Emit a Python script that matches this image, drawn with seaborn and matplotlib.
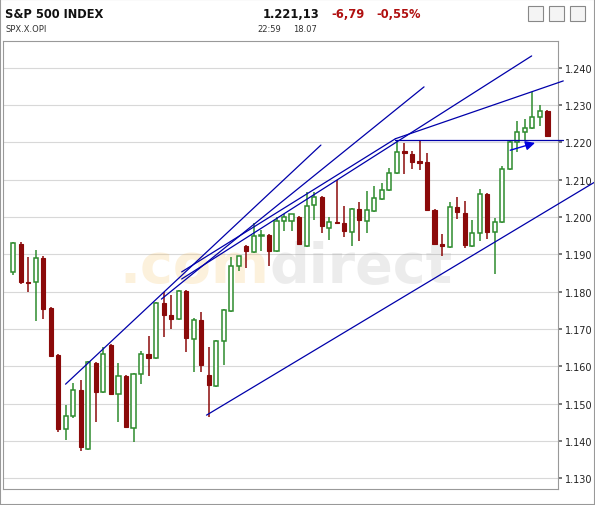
import matplotlib
matplotlib.use("Agg")
import matplotlib.pyplot as plt
import seaborn as sns
import numpy as np

sns.set_theme(style="white")
plt.rcParams['font.family'] = ['DejaVu Sans']

opens = [1185.3,1192.8,1182.6,1182.6,1189.0,1175.6,1163.0,1143.1,1146.6,1153.6,1137.8,1160.9,1153.1,1165.7,1152.5,1157.4,1143.4,1157.9,1163.3,1162.2,
         1177.0,1173.7,1172.7,1180.2,1167.3,1172.4,1157.6,1154.7,1166.8,1174.8,1186.9,1192.2,1190.6,1194.9,1195.2,1190.9,1199.0,1199.0,1200.0,1192.2,
         1203.2,1205.4,1197.1,1198.5,1198.4,1196.0,1202.2,1198.9,1201.6,1204.9,1207.3,1211.8,1217.7,1216.9,1214.8,1214.8,1201.9,1192.8,1192.0,1202.7,
         1201.1,1192.2,1195.7,1206.2,1196.0,1198.7,1212.9,1220.1,1222.8,1223.9,1226.9,1228.5]
highs = [1193.3,1193.3,1189.3,1191.2,1189.5,1176.0,1163.3,1149.6,1155.5,1156.3,1161.5,1161.2,1165.1,1166.0,1160.9,1157.7,1158.2,1164.1,1168.1,1177.3,
         1179.9,1179.1,1180.5,1180.5,1172.9,1174.5,1165.1,1167.0,1175.3,1189.3,1189.6,1192.5,1198.4,1196.5,1195.5,1200.0,1200.8,1200.8,1200.3,1206.7,
         1206.7,1205.7,1200.0,1210.0,1203.0,1202.5,1204.0,1207.0,1208.3,1209.1,1213.2,1220.4,1219.9,1217.7,1220.4,1217.2,1202.2,1195.5,1204.0,1205.4,
         1204.3,1199.2,1207.5,1206.5,1199.8,1213.7,1220.4,1225.8,1226.3,1233.6,1230.1,1228.8]
lows = [1184.5,1182.0,1179.9,1172.1,1172.7,1162.5,1142.3,1140.2,1146.0,1137.2,1137.5,1145.0,1152.8,1152.2,1145.0,1143.4,1139.7,1155.3,1157.4,1162.0,
        1167.8,1170.0,1172.4,1163.8,1158.4,1158.4,1146.3,1154.4,1160.3,1174.5,1185.5,1186.3,1190.4,1190.9,1186.9,1190.6,1196.3,1196.3,1192.8,1192.0,
        1199.2,1195.7,1193.9,1198.2,1194.7,1192.2,1193.6,1195.7,1201.4,1204.6,1207.0,1211.5,1211.6,1212.9,1212.6,1201.6,1192.8,1189.6,1191.7,1199.5,
        1191.7,1192.0,1193.6,1194.1,1184.7,1198.5,1212.7,1217.5,1220.4,1223.7,1224.4,1221.5]
closes = [1193.0,1182.6,1182.4,1189.0,1175.3,1162.7,1143.1,1146.6,1153.6,1138.3,1161.1,1153.1,1163.3,1152.5,1157.4,1143.7,1157.9,1163.3,1162.2,1177.0,
          1173.7,1172.7,1180.2,1167.6,1172.4,1160.3,1155.0,1166.8,1175.1,1186.9,1189.6,1190.9,1194.9,1195.0,1190.9,1199.0,1200.0,1200.8,1192.8,1203.0,
          1205.4,1197.6,1198.7,1198.4,1196.3,1202.2,1199.2,1201.9,1205.1,1207.3,1211.8,1217.5,1217.2,1214.8,1214.6,1201.9,1192.8,1192.2,1202.7,1201.4,
          1192.5,1195.7,1206.2,1196.0,1198.7,1212.9,1220.1,1222.8,1223.9,1226.9,1228.5,1221.8]

# trend lines: (index0, price0, index1, price1)
trend_lines = [
    (6.97, 1155.2, 40.9, 1219.3),
    (19.7, 1178.0, 54.6, 1234.9),
    (22.4, 1183.4, 68.9, 1243.2),
    (22.4, 1185.3, 50.8, 1221.0),
    (50.8, 1221.0, 73.1, 1236.5),
    (50.8, 1220.6, 73.1, 1220.6),
    (25.7, 1146.9, 77.3, 1209.4),
]
yticks = [1.130,1.140,1.150,1.160,1.170,1.180,1.190,1.200,1.210,1.220,1.230,1.240]

W, H = 595, 506
fig = plt.figure(figsize=(W/100, H/100), dpi=100)
fig.patch.set_facecolor('white')
ax = fig.add_axes([3/W, 16/H, 555/W, 448/H])
ax.set_facecolor('white')

o = np.array(opens)/1000; h = np.array(highs)/1000; l = np.array(lows)/1000; c = np.array(closes)/1000
x = np.arange(len(o))
green = '#2e8b2e'; red = '#8b0a0a'
up = c >= o
for i in x:
    col = green if up[i] else red
    ax.vlines(i, l[i], h[i], color=col, lw=1.1, zorder=3)
    bot = min(o[i], c[i]); hgt = max(abs(c[i]-o[i]), 0.0003)
    if up[i]:
        ax.bar(i, hgt, bottom=bot, width=0.55, facecolor='white', edgecolor=green, lw=1.1, zorder=4)
    else:
        ax.bar(i, hgt, bottom=bot, width=0.55, facecolor=red, edgecolor=red, lw=0.8, zorder=4)

for (a0, p0, a1, p1) in trend_lines:
    ax.plot([a0, a1], [p0/1000, p1/1000], color='#0000aa', lw=0.9, zorder=5, clip_on=False)
ax.annotate('', xy=(69.7, 1.2201), xytext=(65.7, 1.2177),
            arrowprops=dict(arrowstyle='-|>', color='#0000dd', lw=1, mutation_scale=14), zorder=6)

ax.text(0.48, 0.495, '.com', transform=ax.transAxes, fontsize=40, color='#f5c060', alpha=0.22,
        ha='right', va='center', fontweight='bold', zorder=1)
ax.text(0.48, 0.495, 'direct', transform=ax.transAxes, fontsize=40, color='#999999', alpha=0.18,
        ha='left', va='center', fontweight='bold', zorder=1)

ax.set_xlim(-1.34, 72.4)
ax.set_ylim(1.1271, 1.2472)
ax.set_yticks(yticks)
ax.yaxis.tick_right()
ax.set_yticklabels([f"{t:.3f}" for t in yticks], fontsize=7, color='#222222')
ax.tick_params(axis='y', length=3, pad=2, right=True, color='#666666')
ax.set_xticks([])
ax.grid(axis='y', color='#d8d8d8', lw=0.8)
for s in ax.spines.values():
    s.set_color('#999999'); s.set_linewidth(0.8)

fig.text(5/W, 1-14/H, 'S&P 500 INDEX', fontsize=8.3, fontweight='bold', va='center', color='#111111')
fig.text(5/W, 1-30/H, 'SPX.X.OPI', fontsize=6, va='center', color='#333333')
fig.text(263/W, 1-14/H, '1.221,13', fontsize=8.3, fontweight='bold', va='center', ha='left', color='#111111')
fig.text(331/W, 1-14/H, '-6,79', fontsize=8.3, fontweight='bold', va='center', ha='left', color='#b01010')
fig.text(376/W, 1-14/H, '-0,55%', fontsize=8.3, fontweight='bold', va='center', ha='left', color='#b01010')
fig.text(257/W, 1-30/H, '22:59', fontsize=6, va='center', color='#333333')
fig.text(293/W, 1-30/H, '18.07', fontsize=6, va='center', color='#333333')
for k, xp in enumerate([528, 549, 570]):
    fig.patches.append(plt.Rectangle((xp/W, 1-22/H), 15/W, 15/H, transform=fig.transFigure,
                                     facecolor='#f4f4f4', edgecolor='#888888', lw=0.8))
fig.patches.append(plt.Rectangle((0, 0), 1, 1, transform=fig.transFigure, fill=False,
                                 edgecolor='#999999', lw=1.5))
fig.savefig('out.png', dpi=100)
